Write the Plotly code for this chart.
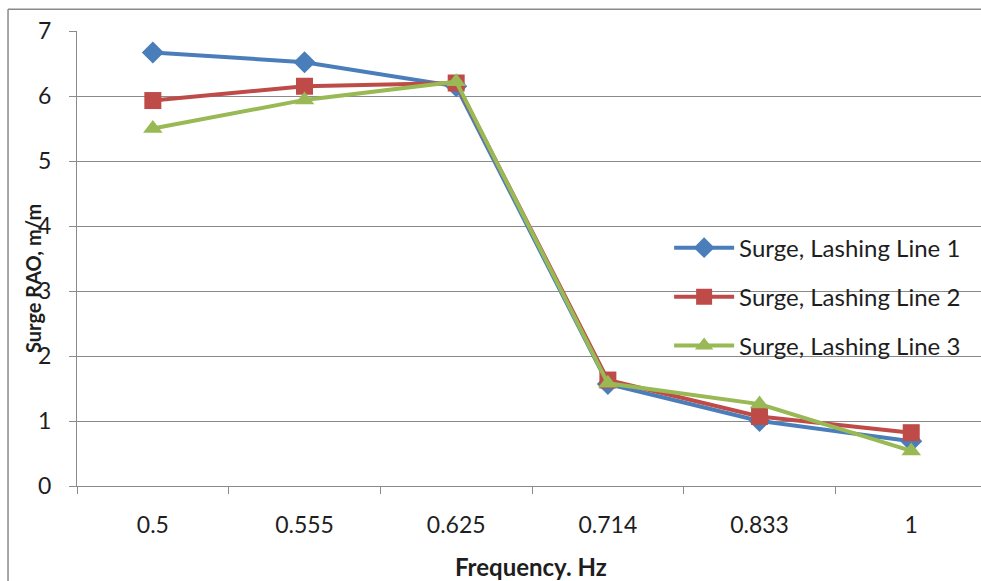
import plotly.graph_objects as go

freq = ["0.5", "0.555", "0.625", "0.714", "0.833", "1"]
line1 = [6.67, 6.52, 6.15, 1.57, 1.00, 0.69]
line2 = [5.93, 6.15, 6.20, 1.63, 1.07, 0.82]
line3 = [5.50, 5.94, 6.22, 1.58, 1.26, 0.54]
names = ["Surge, Lashing Line 1", "Surge, Lashing Line 2", "Surge, Lashing Line 3"]
colors = ["#4A7EBB", "#BE4B48", "#98B954"]
symbols = ["diamond", "square", "triangle-up"]

FONT = "Lato, 'Open Sans', sans-serif"
GRID = "#8a8a8a"
TXT = "#1e1e1e"

fig = go.Figure()
legends = ["legend", "legend2", "legend3"]
for vals, nm, c, s, lg in zip([line1, line2, line3], names, colors, symbols, legends):
    fig.add_trace(go.Scatter(
        x=freq, y=vals, name=nm, mode="lines+markers",
        line=dict(color=c, width=4),
        marker=dict(symbol=s, size=17, color=c),
        legend=lg, showlegend=True,
    ))

leg_common = dict(font=dict(family=FONT, size=24, color=TXT),
                  bgcolor="rgba(0,0,0,0)", x=0.655, xanchor="left",
                  yanchor="middle", itemwidth=60, visible=True)
fig.update_layout(
    width=981, height=581,
    showlegend=True,
    margin=dict(l=77, r=0, t=31, b=95),
    paper_bgcolor="white", plot_bgcolor="white",
    font=dict(family=FONT, size=23, color=TXT),
    legend=dict(y=0.523, **leg_common),
    legend2=dict(y=0.415, **leg_common),
    legend3=dict(y=0.308, **leg_common),
    xaxis=dict(type="category", range=[-0.5, 5.46], tickson="boundaries",
               ticks="outside", ticklen=7, tickcolor=GRID, showgrid=False,
               showline=True, linecolor=GRID, linewidth=1,
               tickfont=dict(size=23, color=TXT), ticklabelstandoff=18,
               zeroline=False),
    yaxis=dict(range=[0, 7], dtick=1, ticks="outside", ticklen=7, tickcolor=GRID,
               showgrid=True, gridcolor=GRID, gridwidth=1,
               showline=True, linecolor=GRID, linewidth=1, zeroline=False,
               tickfont=dict(size=23, color=TXT), ticklabelstandoff=13),
    annotations=[
        dict(text="<b>Surge RAO, m/m</b>", xref="paper", yref="paper",
             x=-0.0487, y=0.457, textangle=-90, showarrow=False,
             font=dict(size=20, color=TXT, family=FONT),
             xanchor="center", yanchor="middle"),
        dict(text="<b>Frequency. Hz</b>", xref="paper", yref="paper",
             x=0.502, y=-0.176, showarrow=False,
             font=dict(size=24, color=TXT, family=FONT),
             xanchor="center", yanchor="middle"),
    ],
    shapes=[
        dict(type="line", xref="paper", yref="paper", x0=-0.0763, x1=-0.0763,
             y0=-0.25, y1=1.048, line=dict(color=GRID, width=1.5)),
        dict(type="line", xref="paper", yref="paper", x0=-0.0763, x1=1.05,
             y0=1.048, y1=1.048, line=dict(color=GRID, width=1.5)),
    ],
)

fig.write_html("out.html")
